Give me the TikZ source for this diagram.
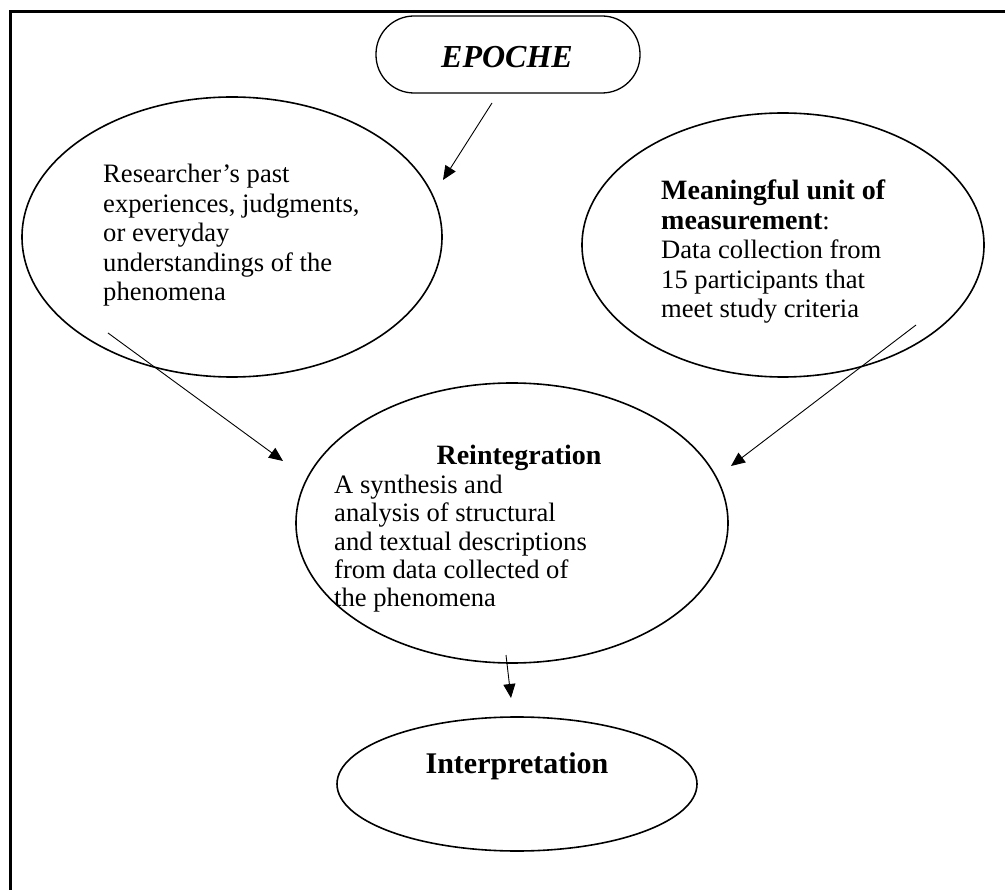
\documentclass[tikz,border=0pt]{standalone}
\usepackage{fontspec}
\setmainfont{Liberation Serif}
\usetikzlibrary{shapes.geometric,arrows.meta}
\begin{document}
\begin{tikzpicture}[x=1pt,y=-1pt,
  bubble/.style={ellipse,draw,line width=1.6pt,inner sep=0pt},
  conn/.style={line width=0.9pt,-{Triangle[length=14pt,width=12pt]}},
  txt/.style={inner sep=0pt,align=left,font=\fontsize{26.6}{29.5}\selectfont},
]
\useasboundingbox (0,0) rectangle (1005,890);
% open frame (top and left edges)
\draw[line width=3pt] (10,890) -- (10,12) -- (1005,12);

% EPOCHE pill
\node[draw,line width=1.3pt,rounded corners=38pt,minimum width=264pt,minimum height=77pt,inner sep=0pt] (epoche) at (508,54.5) {};
\node[inner sep=0pt,anchor=base,font=\fontsize{32}{36}\selectfont\bfseries\itshape] (epochet) at (507,68) {EPOCHE};

% ellipses
\node[bubble,minimum width=420pt,minimum height=280pt] (past) at (232,237) {};
\node[bubble,minimum width=402pt,minimum height=264pt] (unit) at (783,245) {};
\node[bubble,minimum width=432pt,minimum height=280pt] (reint) at (512,523) {};
\node[bubble,minimum width=360pt,minimum height=134pt] (interp) at (517,784) {};

% texts (anchored at the baseline of their last line)
\node[txt,anchor=base west] (pastt) at (103,301) {Researcher’s past\\experiences, judgments,\\or everyday\\understandings of the\\phenomena};
\node[txt,anchor=base west] (unitt) at (661,318) {\fontsize{28}{29.5}\selectfont\bfseries Meaningful unit of\\\fontsize{28}{29.5}\selectfont\bfseries measurement\mdseries\fontsize{26.6}{29.5}\selectfont:\\Data collection from\\15 participants that\\meet study criteria};
\node[inner sep=0pt,anchor=base,font=\fontsize{28}{30}\selectfont\bfseries] (reinth) at (519,465) {Reintegration};
\node[txt,anchor=base west,font=\fontsize{26.6}{28.5}\selectfont] (reintt) at (334,607) {A synthesis and\\analysis of structural\\and textual descriptions\\from data collected of\\the phenomena};
\node[inner sep=0pt,anchor=base,font=\fontsize{30}{34}\selectfont\bfseries] (interpt) at (517,773) {Interpretation};

% connectors
\coordinate (a1s) at (492,103); \coordinate (a1e) at (443,180);
\coordinate (a2s) at (108,333); \coordinate (a2e) at (283,461);
\coordinate (a3s) at (916,325); \coordinate (a3e) at (731,466);
\coordinate (a4s) at (506,655); \coordinate (a4e) at (511,698);
\draw[conn] (a1s) -- (a1e);
\draw[conn] (a2s) -- (a2e);
\draw[conn] (a3s) -- (a3e);
\draw[conn] (a4s) -- (a4e);
\end{tikzpicture}
\end{document}
